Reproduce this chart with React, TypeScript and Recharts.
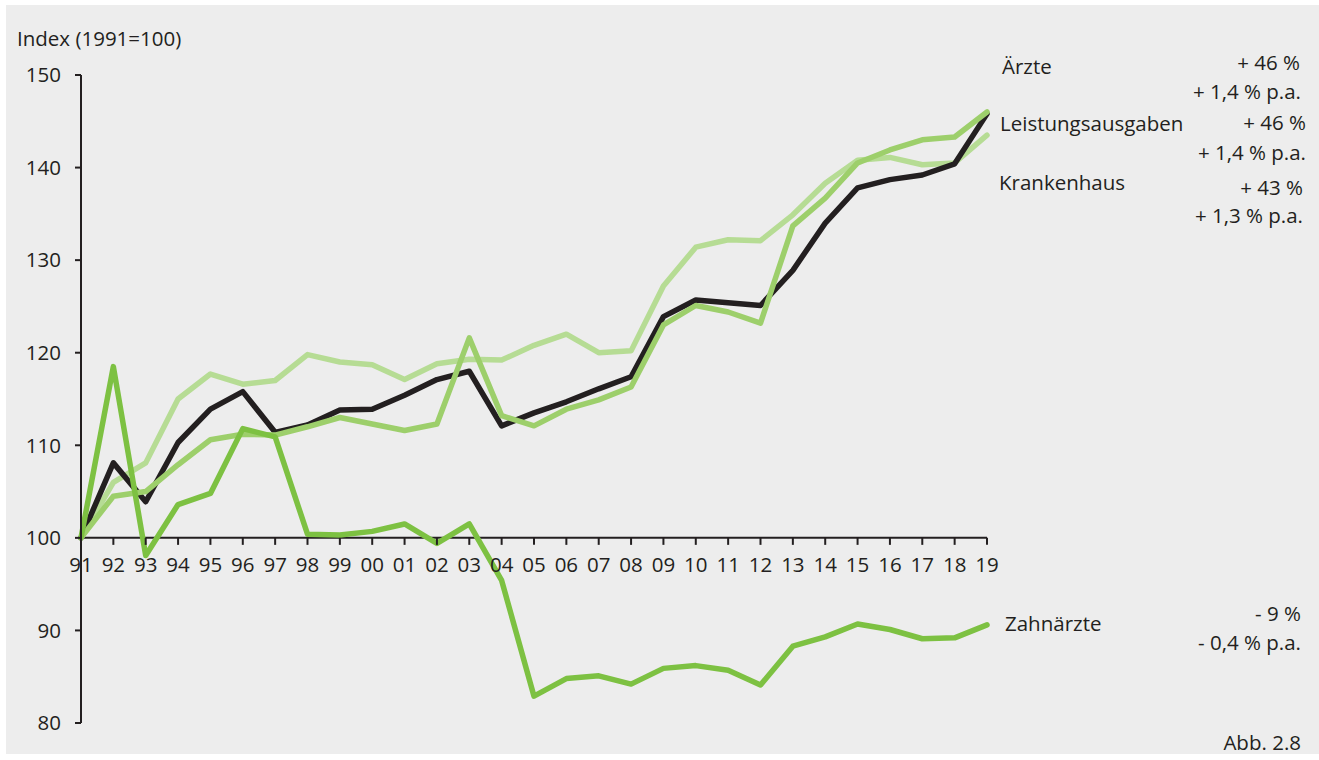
import React from 'react';
import { LineChart, Line, XAxis, YAxis, ReferenceLine } from 'recharts';

const years = ['91','92','93','94','95','96','97','98','99','00','01','02','03','04','05','06','07','08','09','10','11','12','13','14','15','16','17','18','19'];
const leistungsausgaben = [100,108.1,103.9,110.3,113.9,115.8,111.4,112.2,113.8,113.9,115.4,117.1,118.0,112.1,113.5,114.7,116.1,117.4,123.9,125.7,125.4,125.1,128.9,134.0,137.8,138.7,139.2,140.4,145.8];
const aerzte = [100,104.5,105.0,107.9,110.6,111.2,111.1,112.0,113.0,112.3,111.6,112.3,121.6,113.2,112.1,113.9,114.9,116.3,123.0,125.1,124.4,123.2,133.7,136.7,140.5,141.9,143.0,143.3,146.0];
const krankenhaus = [100,106.0,108.1,115.0,117.7,116.6,117.0,119.8,119.0,118.7,117.1,118.8,119.3,119.2,120.8,122.0,120.0,120.2,127.2,131.4,132.2,132.1,134.9,138.3,140.8,141.1,140.3,140.5,143.5];
const zahnaerzte = [100,118.5,98.1,103.6,104.8,111.8,110.9,100.4,100.3,100.7,101.5,99.4,101.5,95.4,82.9,84.8,85.1,84.2,85.9,86.2,85.7,84.1,88.3,89.3,90.7,90.1,89.1,89.2,90.6];
const yTicks = [80, 90, 100, 110, 120, 130, 140, 150];

const data = years.map((y, i) => ({
  year: y,
  leistungsausgaben: leistungsausgaben[i],
  aerzte: aerzte[i],
  krankenhaus: krankenhaus[i],
  zahnaerzte: zahnaerzte[i],
}));

const W = 1319;
const H = 760;
const Y_MIN = 80;
const Y_MAX = 150;
const BASE = 100;
const M = { top: 75, right: 332, bottom: 36, left: 21 };
const Y_AXIS_W = 60;
const X_AXIS_H = 1;
const PLOT_H = H - M.top - M.bottom - X_AXIS_H;
const Y_BASE = M.top + (PLOT_H * (Y_MAX - BASE)) / (Y_MAX - Y_MIN);

const INK = '#231f20';
const FONT = '"Open Sans", sans-serif';

const XTick = (props: any) => {
  const { x, payload } = props;
  return (
    <g>
      <line x1={x} x2={x} y1={Y_BASE} y2={Y_BASE + 7} stroke={INK} strokeWidth={2} />
      <text x={x} y={Y_BASE + 34} textAnchor="middle" fill={INK} fontSize={20.5} fontFamily={FONT}>
        {payload.value}
      </text>
    </g>
  );
};

const txt = (s: string, left: number, top: number, align: 'left' | 'right' = 'left') => {
  const style: React.CSSProperties = {
    position: 'absolute',
    top,
    fontFamily: FONT,
    fontSize: 20.5,
    color: INK,
    lineHeight: '24px',
    whiteSpace: 'nowrap',
  };
  if (align === 'left') style.left = left;
  else style.right = W - left;
  return <div style={style}>{s}</div>;
};

export default function App() {
  return (
    <div style={{ position: 'absolute', left: 0, top: 0, width: W, height: H, background: '#ffffff', overflow: 'hidden' }}>
      <div style={{ position: 'absolute', left: 6, top: 5, width: W - 6, height: 749, background: '#ededed' }} />
      <div style={{ position: 'absolute', left: 0, top: 0 }}>
        <LineChart width={W} height={H} data={data} margin={M}>
          <XAxis
            dataKey="year"
            height={X_AXIS_H}
            axisLine={false}
            tickLine={false}
            tick={<XTick />}
            interval={0}
          />
          <YAxis
            width={Y_AXIS_W}
            domain={[Y_MIN, Y_MAX]}
            ticks={yTicks}
            interval={0}
            axisLine={{ stroke: INK, strokeWidth: 2 }}
            tickLine={{ stroke: INK, strokeWidth: 2 }}
            tickSize={6}
            tickMargin={14}
            tick={{ fill: INK, fontSize: 20.5, fontFamily: FONT }}
            allowDataOverflow
          />
          <ReferenceLine y={BASE} stroke={INK} strokeWidth={2} />
          <Line type="linear" dataKey="krankenhaus" stroke="#b6dc94" strokeWidth={5.5} dot={false} isAnimationActive={false} strokeLinejoin="round" strokeLinecap="round" />
          <Line type="linear" dataKey="leistungsausgaben" stroke={INK} strokeWidth={5.5} dot={false} isAnimationActive={false} strokeLinejoin="round" strokeLinecap="round" />
          <Line type="linear" dataKey="aerzte" stroke="#9dcf6b" strokeWidth={5.5} dot={false} isAnimationActive={false} strokeLinejoin="round" strokeLinecap="round" />
          <Line type="linear" dataKey="zahnaerzte" stroke="#7dc142" strokeWidth={5.5} dot={false} isAnimationActive={false} strokeLinejoin="round" strokeLinecap="round" />
        </LineChart>
      </div>
      {txt('Index (1991=100)', 17, 26)}
      {txt('Ärzte', 1002, 54)}
      {txt('+ 46 %', 1300, 50, 'right')}
      {txt('+ 1,4 % p.a.', 1301, 79, 'right')}
      {txt('Leistungsausgaben', 1000, 111)}
      {txt('+ 46 %', 1306, 110, 'right')}
      {txt('+ 1,4 % p.a.', 1306, 140, 'right')}
      {txt('Krankenhaus', 999, 170)}
      {txt('+ 43 %', 1303, 175, 'right')}
      {txt('+ 1,3 % p.a.', 1303, 203, 'right')}
      {txt('Zahnärzte', 1005, 611)}
      {txt('- 9 %', 1301, 601, 'right')}
      {txt('- 0,4 % p.a.', 1301, 630, 'right')}
      {txt('Abb. 2.8', 1301, 730, 'right')}
    </div>
  );
}
